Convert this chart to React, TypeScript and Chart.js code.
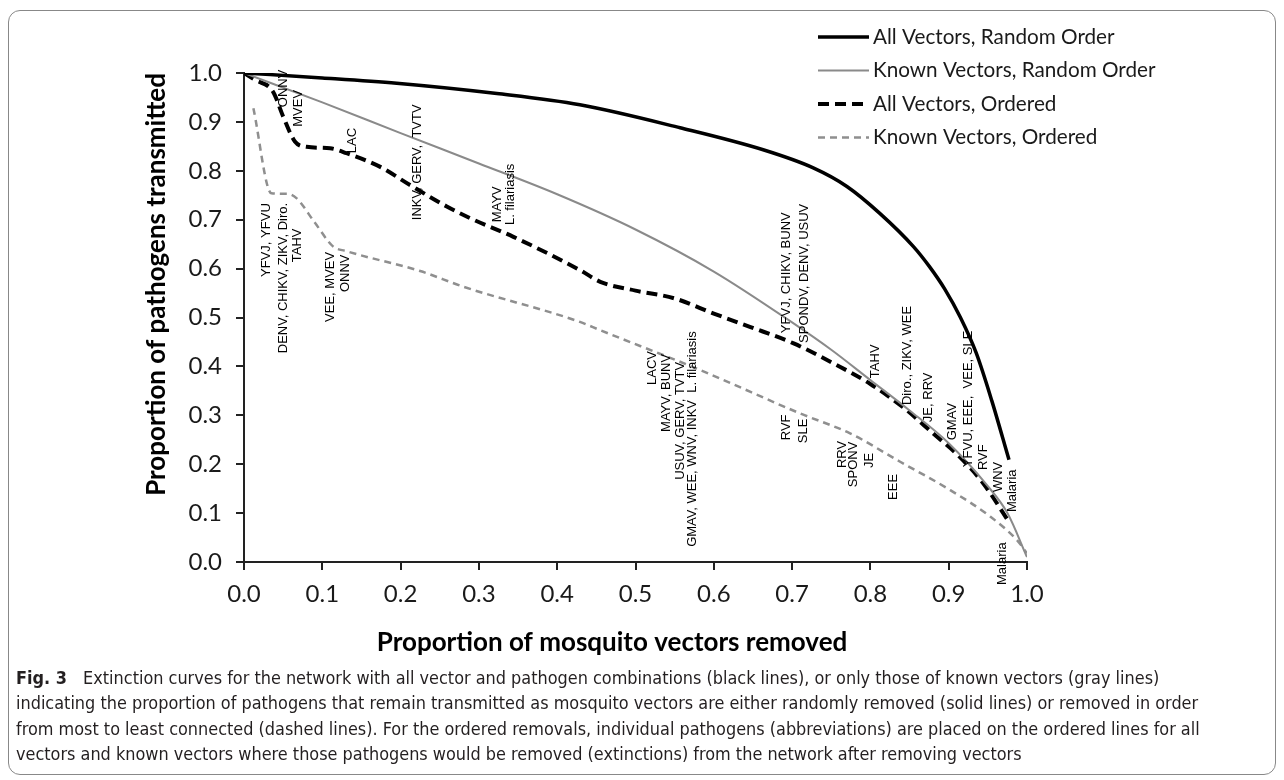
import React, { useEffect, useRef } from "react";
import { Chart, registerables } from "chart.js";

Chart.register(...registerables);

// ---- Data ----
const allRandomX = [0, 0.1, 0.195, 0.323, 0.429, 0.557, 0.663, 0.727, 0.77, 0.812, 0.855, 0.875, 0.895, 0.915, 0.935, 0.955, 0.977];
const allRandomY = [1.0, 0.99, 0.979, 0.958, 0.935, 0.888, 0.843, 0.806, 0.768, 0.713, 0.645, 0.605, 0.558, 0.5, 0.428, 0.33, 0.209];

const knownRandomX = [0, 0.1, 0.2, 0.3, 0.4, 0.5, 0.6, 0.7, 0.75, 0.8, 0.85, 0.9, 0.95, 0.975, 1.0];
const knownRandomY = [1.0, 0.94, 0.877, 0.815, 0.752, 0.68, 0.594, 0.49, 0.434, 0.372, 0.31, 0.243, 0.155, 0.1, 0.01];

const allOrderedX = [0, 0.014, 0.037, 0.05, 0.065, 0.08, 0.11, 0.131, 0.174, 0.212, 0.259, 0.289, 0.344, 0.429, 0.455, 0.5, 0.55, 0.6, 0.646, 0.702, 0.753, 0.8, 0.846, 0.88, 0.914, 0.944, 0.977];
const allOrderedY = [1.0, 0.986, 0.962, 0.911, 0.86, 0.849, 0.846, 0.836, 0.808, 0.771, 0.727, 0.703, 0.665, 0.597, 0.573, 0.555, 0.539, 0.508, 0.481, 0.447, 0.406, 0.364, 0.311, 0.263, 0.215, 0.161, 0.082];

const knownOrderedX = [0.012, 0.035, 0.055, 0.067, 0.09, 0.114, 0.13, 0.225, 0.28, 0.429, 0.455, 0.582, 0.71, 0.774, 0.838, 0.902, 0.953, 0.987, 1.0];
const knownOrderedY = [0.928, 0.754, 0.753, 0.744, 0.695, 0.645, 0.636, 0.595, 0.563, 0.491, 0.474, 0.393, 0.304, 0.263, 0.205, 0.147, 0.093, 0.045, 0.018];

const seriesNames = [
  "All Vectors, Random Order",
  "Known Vectors, Random Order",
  "All Vectors, Ordered",
  "Known Vectors, Ordered",
];

const xAxisTitle = "Proportion of mosquito vectors removed";
const yAxisTitle = "Proportion of pathogens transmitted";

// Pathogen extinction labels (x position, y of text start in data units)
const pathogenLabels = [
  "ONNV", "MVEV", "LAC", "INKV, GERV,  TVTV", "MAYV", "L. filariasis",
  "YFVJ, YFVU", "DENV, CHIKV, ZIKV, Diro.", "TAHV", "VEE, MVEV", "ONNV",
  "LACV", "MAYV, BUNV", "USUV, GERV, TVTV", "GMAV, WEE, WNV, INKV  L. filariasis",
  "RVF", "SLE", "YFVJ, CHIKV, BUNV", "SPONDV, DENV, USUV", "TAHV",
  "RRV", "SPONV", "JE", "EEE", "Diro., ZIKV, WEE", "JE, RRV", "GMAV",
  "YFVU, EEE,  VEE, SLE", "RVF", "WNV", "Malaria", "Malaria",
];
const pathogenLabelX = [
  0.05, 0.069, 0.139, 0.222, 0.324, 0.34,
  0.029, 0.05, 0.068, 0.11, 0.129,
  0.522, 0.54, 0.557, 0.573,
  0.693, 0.714, 0.693, 0.716, 0.806,
  0.764, 0.778, 0.799, 0.829, 0.847, 0.874, 0.905,
  0.925, 0.944, 0.963, 0.981, 0.969,
];
const pathogenLabelY = [
  0.93, 0.89, 0.836, 0.699, 0.695, 0.689,
  0.583, 0.427, 0.613, 0.491, 0.552,
  0.362, 0.266, 0.168, 0.031,
  0.249, 0.243, 0.468, 0.448, 0.376,
  0.192, 0.153, 0.192, 0.127, 0.321, 0.286, 0.249,
  0.194, 0.188, 0.143, 0.102, -0.047,
];

const tickValues = [0, 0.1, 0.2, 0.3, 0.4, 0.5, 0.6, 0.7, 0.8, 0.9, 1.0];

const zip = (xs: number[], ys: number[]) => xs.map((x, i) => ({ x, y: ys[i] }));

const TICK_FONT = "Lato, 'Open Sans', sans-serif";

const pathogenLabelPlugin = {
  id: "pathogenLabels",
  afterDatasetsDraw(chart: any) {
    const { ctx, scales } = chart;
    ctx.save();
    ctx.font = "13px 'Liberation Sans', Arial, sans-serif";
    ctx.fillStyle = "#000";
    ctx.textAlign = "left";
    ctx.textBaseline = "middle";
    pathogenLabels.forEach((t, i) => {
      const px = scales.x.getPixelForValue(pathogenLabelX[i]);
      const py = scales.y.getPixelForValue(pathogenLabelY[i]);
      ctx.save();
      ctx.translate(px, py);
      ctx.rotate(-Math.PI / 2);
      ctx.fillText(t, 0, 0);
      ctx.restore();
    });
    ctx.restore();
  },
};

const xTitlePlugin = {
  id: "xTitle",
  afterDraw(chart: any) {
    const { ctx, chartArea } = chart;
    ctx.save();
    ctx.font = "bold 26px " + TICK_FONT;
    ctx.fillStyle = "#000";
    ctx.textAlign = "center";
    ctx.textBaseline = "middle";
    ctx.fillText(xAxisTitle, chartArea.left + chartArea.width * 0.47, chartArea.bottom + 81);
    ctx.restore();
  },
};

const legendPlugin = {
  id: "customLegend",
  afterDraw(chart: any) {
    const { ctx } = chart;
    const ds = chart.data.datasets;
    ctx.save();
    ds.forEach((d: any, i: number) => {
      const y = 26 + i * 33.5;
      ctx.beginPath();
      ctx.strokeStyle = d.borderColor;
      ctx.lineWidth = d.borderWidth;
      ctx.setLineDash(d.borderDash || []);
      ctx.moveTo(809, y);
      ctx.lineTo(860, y);
      ctx.stroke();
      ctx.setLineDash([]);
      ctx.fillStyle = "#1a1a1a";
      ctx.font = "20.7px " + TICK_FONT;
      ctx.textAlign = "left";
      ctx.textBaseline = "middle";
      ctx.fillText(d.label, 864, y);
    });
    ctx.restore();
  },
};

export default function App() {
  const ref = useRef<HTMLCanvasElement | null>(null);

  useEffect(() => {
    if (!ref.current) return;
    const chart = new Chart(ref.current, {
      type: "scatter",
      data: {
        datasets: [
          {
            label: seriesNames[0],
            data: zip(allRandomX, allRandomY),
            showLine: true,
            borderColor: "#000000",
            borderWidth: 3.5,
            pointRadius: 0,
            cubicInterpolationMode: "monotone",
          },
          {
            label: seriesNames[1],
            data: zip(knownRandomX, knownRandomY),
            showLine: true,
            borderColor: "#8a8a8a",
            borderWidth: 2,
            pointRadius: 0,
            cubicInterpolationMode: "monotone",
          },
          {
            label: seriesNames[2],
            data: zip(allOrderedX, allOrderedY),
            showLine: true,
            borderColor: "#000000",
            borderWidth: 4,
            borderDash: [11, 6],
            pointRadius: 0,
            cubicInterpolationMode: "monotone",
          },
          {
            label: seriesNames[3],
            data: zip(knownOrderedX, knownOrderedY),
            showLine: true,
            borderColor: "#8f8f8f",
            borderWidth: 2.5,
            borderDash: [7, 5],
            pointRadius: 0,
            cubicInterpolationMode: "monotone",
          },
        ],
      },
      options: {
        responsive: false,
        animation: false,
        devicePixelRatio: 1,
        layout: { padding: { left: 132, top: 62, right: 248, bottom: 9 } },
        plugins: {
          legend: { display: false },
          tooltip: { enabled: false },
        },
        scales: {
          x: {
            type: "linear",
            min: 0,
            max: 1,
            afterBuildTicks: (scale: any) => {
              scale.ticks = tickValues.map((v) => ({ value: v }));
            },
            afterFit: (scale: any) => {
              scale.height = 100;
            },
            ticks: {
              callback: (v: any) => Number(v).toFixed(1),
              font: { family: TICK_FONT, size: 24 },
              color: "#1a1a1a",
              padding: 10,
              maxRotation: 0,
            },
            grid: {
              drawOnChartArea: false,
              drawTicks: true,
              tickLength: 8,
              color: "#222",
              lineWidth: 2,
            },
            border: { display: true, color: "#222", width: 2 },
            title: { display: false, text: xAxisTitle },
          },
          y: {
            type: "linear",
            min: 0,
            max: 1,
            afterBuildTicks: (scale: any) => {
              scale.ticks = tickValues.map((v) => ({ value: v }));
            },
            afterFit: (scale: any) => {
              scale.width = 103;
            },
            ticks: {
              callback: (v: any) => Number(v).toFixed(1),
              font: { family: TICK_FONT, size: 24 },
              color: "#1a1a1a",
              padding: 14,
            },
            grid: {
              drawOnChartArea: false,
              drawTicks: true,
              tickLength: 8,
              color: "#222",
              lineWidth: 2,
            },
            border: { display: true, color: "#222", width: 2 },
            title: {
              display: true,
              text: yAxisTitle,
              align: "end",
              font: { family: TICK_FONT, size: 26, weight: "bold" },
              color: "#000",
              padding: { top: 0, bottom: 0 },
            },
          },
        },
      },
      plugins: [pathogenLabelPlugin, legendPlugin, xTitlePlugin],
    } as any);
    return () => chart.destroy();
  }, []);

  return (
    <div
      style={{
        position: "relative",
        marginTop: 2,
        width: 1268,
        height: 765,
        boxSizing: "border-box",
        border: "1px solid #888",
        borderRadius: 12,
        background: "#fff",
      }}
    >
      <canvas
        ref={ref}
        width={1266}
        height={660}
        style={{ position: "absolute", left: 0, top: 0, width: 1266, height: 660 }}
      />
      <div
        style={{
          position: "absolute",
          left: 7,
          top: 654,
          width: 1255,
          fontFamily: "'Liberation Sans Narrow', 'DejaVu Sans Condensed', 'Open Sans', sans-serif",
          fontStretch: "condensed",
          fontSize: 17.9,
          lineHeight: "25.3px",
          color: "#231f20",
          whiteSpace: "nowrap",
        }}
      >
        <b style={{ display: "inline-block", width: 62 }}>Fig. 3</b> Extinction curves for the network with all vector and pathogen combinations (black lines), or only those of known vectors (gray lines)
        <br />
        indicating the proportion of pathogens that remain transmitted as mosquito vectors are either randomly removed (solid lines) or removed in order
        <br />
        from most to least connected (dashed lines). For the ordered removals, individual pathogens (abbreviations) are placed on the ordered lines for all
        <br />
        vectors and known vectors where those pathogens would be removed (extinctions) from the network after removing vectors
      </div>
    </div>
  );
}
